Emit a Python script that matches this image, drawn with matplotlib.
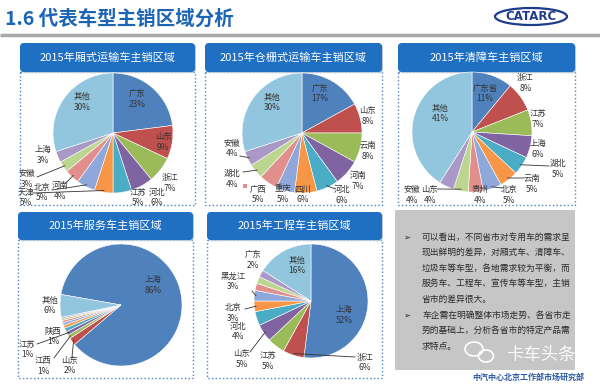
import numpy as np
import matplotlib
matplotlib.use("Agg")
import matplotlib.pyplot as plt
from matplotlib.patches import FancyBboxPatch, Rectangle, Ellipse

plt.rcParams['font.family'] = ['Noto Sans CJK SC', 'DejaVu Sans']

# --------------------------------------------
# DATA (share of sales by region, %)
# --------------------------------------------
box_regions = ['广东', '山东', '浙江', '河北', '江苏', '天津', '北京', '河南', '安徽', '上海', '其他']
box_share = [23, 9, 7, 6, 5, 5, 5, 4, 3, 3, 30]

stake_regions = ['广东', '山东', '云南', '河南', '河北', '四川', '重庆', '广西', '湖北', '安徽', '其他']
stake_share = [17, 8, 8, 7, 6, 6, 5, 5, 4, 4, 30]

wrecker_regions = ['广东省', '浙江', '江苏', '上海', '湖北', '云南', '北京', '贵州', '山东', '安徽', '其他']
wrecker_share = [11, 8, 7, 6, 5, 5, 5, 4, 4, 4, 41]

service_regions = ['上海', '山东', '江西', '江苏', '陕西', '', '', '', '', '', '其他']
service_share = [86, 2, 1, 1, 1, 0.8, 0.7, 0.6, 0.5, 0.4, 6]

eng_regions = ['上海', '浙江', '江苏', '山东', '河北', '北京', '黑龙江', '', '', '广东', '其他']
eng_share = [52, 6, 5, 5, 4, 3, 3, 2, 2, 2, 16]

titles = ['2015年厢式运输车主销区域', '2015年仓栅式运输车主销区域', '2015年清障车主销区域',
          '2015年服务车主销区域', '2015年工程车主销区域']

notes = [
    '可以看出，不同省市对专用车的需求呈',
    '现出鲜明的差异，对厢式车、清障车、',
    '垃圾车等车型，各地需求较为平衡，而',
    '服务车、工程车、宣传车等车型，主销',
    '省市的差异很大。',
    '车企需在明确整体市场走势、各省市走',
    '势的基础上，分析各省市的特定产品需',
    '求特点。',
]
bullet_lines = [0, 5]

colors = ['#4F81BD', '#C0504D', '#9BBB59', '#8064A2', '#4BACC6', '#F79646',
          '#8EA8DB', '#E08F8D', '#BCD68F', '#AA98C6', '#92C6DE']

# --------------------------------------------
# FIGURE (one axes in pixel coordinates)
# --------------------------------------------
fig = plt.figure(figsize=(6, 3.85), dpi=100)
ax = fig.add_axes([0, 0, 1, 1])
ax.axis('off')

# header
ax.text(5, 19, '1.6 代表车型主销区域分析', fontsize=14, fontweight='bold',
        color='#1c64b4', va='center', ha='left')
ax.plot([0, 600], [34.5, 34.5], color='#a8a8a8', lw=2.5, solid_capstyle='butt')
ax.add_patch(Ellipse((531, 16.5), 72, 17, fill=False, ec='#1d3c8c', lw=1.6))
ax.text(531, 16.8, 'CATARC', fontsize=8.5, fontweight='bold', color='#1d3c8c',
        ha='center', va='center', family='DejaVu Sans')

# panels: (x, bar_top, width, bar_h, box_bottom)
panels = [(20, 43, 175, 29, 205), (205, 43, 177, 29, 205), (398, 43, 177, 29, 205),
          (18, 212, 175, 28, 378), (207, 212, 175, 28, 378)]
for (x, top, w, h, bottom), t in zip(panels, titles):
    ax.add_patch(Rectangle((x, top + h), w, bottom - top - h, fill=False,
                           ec='#4a86c8', lw=1.0, ls=':'))
    ax.add_patch(FancyBboxPatch((x + 1, top + 1), w, h, boxstyle='round,pad=0,rounding_size=4',
                                fc='#b8c8d8', ec='none'))
    ax.add_patch(FancyBboxPatch((x, top), w, h, boxstyle='round,pad=0,rounding_size=4',
                                fc='#1f6fc2', ec='none'))
    ax.text(x + w / 2, top + h / 2, t, color='white', fontsize=8, ha='center', va='center')


def draw_pie(values, names, cx, cy, r, start, label_xy, leaders):
    # clockwise from 12 o'clock (y axis is inverted, so counterclock=True runs clockwise)
    ax.pie(values, colors=colors[:len(values)], startangle=start - 90, counterclock=True,
           center=(cx, cy), radius=r, wedgeprops=dict(edgecolor='white', linewidth=0.4))
    total = float(sum(values))
    cum = np.cumsum([0] + list(values))
    for i, (name, v) in enumerate(zip(names, values)):
        if not name:
            continue
        lx, ly = label_xy[i]
        ax.text(lx, ly, f'{name}\n{v:g}%', fontsize=6, color='#333333',
                ha='center', va='center', linespacing=1.25, zorder=6)
        if i in leaders:
            a = np.radians(start + 360 * (cum[i] + v / 2) / total)
            ex, ey = cx + 0.97 * r * np.sin(a), cy - 0.97 * r * np.cos(a)
            sx, sy = leaders[i]
            ax.plot([sx, ex], [sy, ey], color='#333333', lw=0.6, zorder=6)


draw_pie(box_share, box_regions, 113, 133, 60, 0,
         [(137, 99), (163, 142), (170, 183), (157, 197.5), (138, 197.5), (26, 197.5),
          (42, 192.5), (60, 191), (27, 179), (43, 155), (82, 102)],
         {5: (33, 193), 6: (52, 190), 7: (66, 183), 8: (37, 177)})

draw_pie(stake_share, stake_regions, 302, 133, 60, 0,
         [(320, 93.5), (368, 116), (368, 151), (358, 181), (342, 195), (303, 194.5),
          (283, 194.5), (258, 194.5), (232, 179), (232, 148.5), (272, 102.5)],
         {4: (335, 189), 8: (243, 172), 9: (240, 156)})
ax.add_patch(Rectangle((243, 184), 3.5, 3.5, fc=colors[7], ec='none'))

draw_pie(wrecker_share, wrecker_regions, 472, 132, 60, 0,
         [(485, 93.5), (525.5, 83), (538, 119), (538, 149), (558, 169), (532, 184),
          (509, 195), (480, 195), (430, 195), (412, 195), (440, 113.5)],
         {4: (549, 166), 5: (524, 178), 6: (502, 188), 8: (437, 189)})

draw_pie(service_share, service_regions, 121, 305, 61, 280,
         [(153, 285), (70, 365.5), (43, 366), (27, 349.5), (53, 336.5), None, None,
          None, None, None, (50, 305.5)],
         {1: (72, 357), 2: (54, 358), 3: (37, 344)})

draw_pie(eng_share, eng_regions, 311, 301, 57, 0,
         [(344, 315), (365, 362.5), (268, 361), (242, 359), (238, 331.5), (233, 313),
          (233, 281.5), None, None, (253, 260), (297, 265.5)],
         {1: (355, 357), 3: (250, 352), 5: (245, 309), 6: (252, 291)})

# notes box
ax.add_patch(Rectangle((395, 210), 180, 160, fc='#c6c6c6', ec='none', zorder=1))
line_y = [237, 252, 268, 283, 299, 315, 330, 346]
for i, (txt, y) in enumerate(zip(notes, line_y)):
    if i in bullet_lines:
        ax.text(407, y, '➢', fontsize=6, color='#222222', ha='center', va='center',
                family='DejaVu Sans', zorder=3)
    ax.text(422, y, txt, fontsize=6.3, color='#2a2a2a', ha='left', va='center', zorder=3)

ax.add_patch(Ellipse((474, 349), 18, 14, fill=False, ec='white', lw=1.2, zorder=3))
ax.add_patch(Ellipse((486, 356), 15, 12, fill=False, ec='white', lw=1.2, zorder=3))
ax.text(541, 355, '卡车头条', fontsize=12.5, color='white', ha='center', va='center',
        alpha=0.9, zorder=3)
ax.text(528, 377.5, '中汽中心北京工作部市场研究部', fontsize=5.8, fontweight='bold',
        color='#2b5aa5', ha='center', va='center')

ax.set_xlim(0, 600)
ax.set_ylim(385, 0)
ax.set_aspect('auto')

fig.savefig('out.png', dpi=100)
